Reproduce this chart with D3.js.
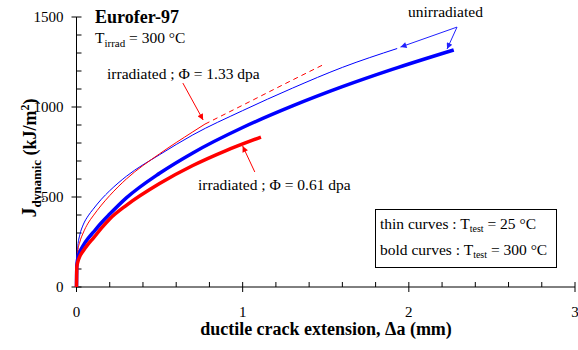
<!DOCTYPE html>
<html>
<head>
<meta charset="utf-8">
<script src="https://cdn.jsdelivr.net/npm/d3@7"></script>
<style>
body { margin: 0; background: #fff; }
svg { font-family: "Liberation Serif", "Times New Roman", serif; }
.tick-label { font-size: 15px; }
.note { font-size: 15.5px; }
</style>
</head>
<body>
<script>
var WIDTH = 578, HEIGHT = 350;

// crack extension (mm) / J (kJ/m2)
var thinBlueA = [0, 0.002, 0.008, 0.02, 0.04, 0.07, 0.1, 0.15, 0.2, 0.3, 0.5, 0.7, 1.0, 1.3, 1.6, 1.93];
var thinBlueJ = [0, 170, 230, 290, 345, 395, 432, 488, 535, 615, 735, 845, 980, 1105, 1220, 1325];

var thinRedA = [0, 0.002, 0.008, 0.02, 0.04, 0.07, 0.1, 0.15, 0.2, 0.3, 0.5, 0.7, 0.773];
var thinRedJ = [0, 140, 200, 250, 300, 355, 395, 455, 508, 600, 740, 862, 905];

var dashRedA = [0.773, 1.0, 1.3, 1.494];
var dashRedJ = [905, 1010, 1150, 1239];

var boldBlueA = [0, 0.002, 0.008, 0.02, 0.04, 0.07, 0.1, 0.15, 0.2, 0.3, 0.5, 0.7, 1.0, 1.3, 1.6, 1.9, 2.27];
var boldBlueJ = [0, 120, 160, 195, 230, 270, 303, 357, 405, 495, 632, 745, 886, 1006, 1113, 1209, 1317];

var boldRedA = [0, 0.002, 0.008, 0.02, 0.04, 0.07, 0.1, 0.15, 0.2, 0.3, 0.5, 0.7, 0.9, 1.11];
var boldRedJ = [0, 110, 140, 170, 200, 238, 270, 327, 378, 454, 575, 675, 758, 833];

var xTicks = [0, 1, 2, 3];
var yTicks = [0, 500, 1000, 1500];

var x = d3.scaleLinear().domain([0, 3]).range([76.5, 575]);
var y = d3.scaleLinear().domain([0, 1500]).range([287, 17]);

var svg = d3.select('body').append('svg')
    .attr('width', WIDTH)
    .attr('height', HEIGHT);

var defs = svg.append('defs');
function marker(id, color) {
    defs.append('marker')
        .attr('id', id)
        .attr('viewBox', '0 0 10 10')
        .attr('refX', 10).attr('refY', 5)
        .attr('markerWidth', 9).attr('markerHeight', 6)
        .attr('markerUnits', 'userSpaceOnUse')
        .attr('orient', 'auto')
        .append('path')
        .attr('d', 'M0,0 L10,5 L0,10 z')
        .attr('fill', color);
}
marker('arrRed', '#ff0000');
marker('arrBlue', '#2020ff');

// axes
svg.append('line')
    .attr('x1', x(0)).attr('x2', x(0))
    .attr('y1', y(0)).attr('y2', y(1500))
    .attr('stroke', '#000');
svg.append('line')
    .attr('x1', x(0)).attr('x2', x(3))
    .attr('y1', y(0)).attr('y2', y(0))
    .attr('stroke', '#000');

svg.selectAll('.ymin')
    .data(d3.range(100, 1501, 100).filter(function (d) { return d % 500 !== 0; }))
    .enter().append('line')
    .attr('x1', x(0)).attr('x2', x(0) + 5)
    .attr('y1', y).attr('y2', y)
    .attr('stroke', '#000');
svg.selectAll('.ymaj')
    .data(yTicks).enter().append('line')
    .attr('x1', x(0) - 5).attr('x2', x(0) + 5)
    .attr('y1', y).attr('y2', y)
    .attr('stroke', '#000');
svg.selectAll('.ylab')
    .data(yTicks).enter().append('text')
    .attr('class', 'tick-label')
    .attr('x', x(0) - 13)
    .attr('y', function (d) { return y(d) + 5; })
    .attr('text-anchor', 'end')
    .text(function (d) { return d; });

svg.selectAll('.xmin')
    .data(d3.range(0.2, 3, 0.2).filter(function (d) { return Math.abs(d - Math.round(d)) > 0.01; }))
    .enter().append('line')
    .attr('x1', x).attr('x2', x)
    .attr('y1', y(0)).attr('y2', y(0) - 5)
    .attr('stroke', '#000');
svg.selectAll('.xmaj')
    .data(xTicks).enter().append('line')
    .attr('x1', x).attr('x2', x)
    .attr('y1', y(0) - 5).attr('y2', y(0) + 5)
    .attr('stroke', '#000');
svg.selectAll('.xlab')
    .data(xTicks).enter().append('text')
    .attr('class', 'tick-label')
    .attr('x', x)
    .attr('y', 317)
    .attr('text-anchor', 'middle')
    .text(function (d) { return d; });

// curves
var line = d3.line()
    .x(function (d) { return x(d[0]); })
    .y(function (d) { return y(d[1]); })
    .curve(d3.curveMonotoneX);

function curve(as, js, color, width, dash) {
    svg.append('path')
        .datum(d3.zip(as, js))
        .attr('d', line)
        .attr('fill', 'none')
        .attr('stroke', color)
        .attr('stroke-width', width)
        .attr('stroke-dasharray', dash || null);
}
curve(thinBlueA, thinBlueJ, '#0000ff', 1);
curve(thinRedA, thinRedJ, '#ff0000', 1);
curve(dashRedA, dashRedJ, '#ff0000', 1, '5,4');
curve(boldBlueA, boldBlueJ, '#0000ff', 3.5);
curve(boldRedA, boldRedJ, '#ff0000', 3.5);

// annotation arrows (data units)
function arrow(a0, j0, a1, j1, color, id) {
    svg.append('line')
        .attr('x1', x(a0)).attr('y1', y(j0))
        .attr('x2', x(a1)).attr('y2', y(j1))
        .attr('stroke', color)
        .attr('stroke-width', 1)
        .attr('marker-end', 'url(#' + id + ')');
}
arrow(0.64, 1133, 0.762, 928, '#ff0000', 'arrRed');
arrow(1.073, 639, 1.0, 783, '#ff0000', 'arrRed');
arrow(2.29, 1444, 1.95, 1333, '#2020ff', 'arrBlue');
arrow(2.29, 1444, 2.23, 1322, '#2020ff', 'arrBlue');

// texts
svg.append('text')
    .attr('x', 95).attr('y', 23)
    .attr('font-size', 18).attr('font-weight', 'bold')
    .text('Eurofer-97');

var t = svg.append('text').attr('class', 'note').attr('x', 95).attr('y', 43);
t.append('tspan').text('T');
t.append('tspan').attr('font-size', 11).attr('dy', 4).text('irrad');
t.append('tspan').attr('dy', -4).text(' = 300 °C');

svg.append('text').attr('class', 'note')
    .attr('x', 107).attr('y', 79)
    .text('irradiated ; Φ = 1.33 dpa');
svg.append('text').attr('class', 'note')
    .attr('x', 198).attr('y', 190)
    .text('irradiated ; Φ = 0.61 dpa');
svg.append('text').attr('class', 'note')
    .attr('x', 408).attr('y', 17)
    .text('unirradiated');

// legend box
svg.append('rect')
    .attr('x', 375.5).attr('y', 209.5)
    .attr('width', 181).attr('height', 58)
    .attr('fill', '#fff').attr('stroke', '#000');
[['thin curves : T', ' = 25 °C', 229], ['bold curves : T', ' = 300 °C', 255]].forEach(function (r) {
    var tx = svg.append('text').attr('class', 'note').attr('x', 380).attr('y', r[2]);
    tx.append('tspan').text(r[0]);
    tx.append('tspan').attr('font-size', 10).attr('dy', 3).text('test');
    tx.append('tspan').attr('dy', -3).text(r[1]);
});

// axis titles
svg.append('text')
    .attr('x', 326).attr('y', 335)
    .attr('text-anchor', 'middle')
    .attr('font-size', 18).attr('font-weight', 'bold')
    .text('ductile crack extension, Δa (mm)');

var yl = svg.append('text')
    .attr('transform', 'translate(36,158) rotate(-90)')
    .attr('text-anchor', 'middle')
    .attr('font-weight', 'bold');
yl.append('tspan').attr('font-size', 20).text('J');
yl.append('tspan').attr('font-size', 13).attr('dy', 5).text('dynamic');
yl.append('tspan').attr('font-size', 18).attr('dy', -5).text(' (kJ/m');
yl.append('tspan').attr('font-size', 12).attr('dy', -7).text('2');
yl.append('tspan').attr('font-size', 18).attr('dy', 7).text(')');
</script>
</body>
</html>
